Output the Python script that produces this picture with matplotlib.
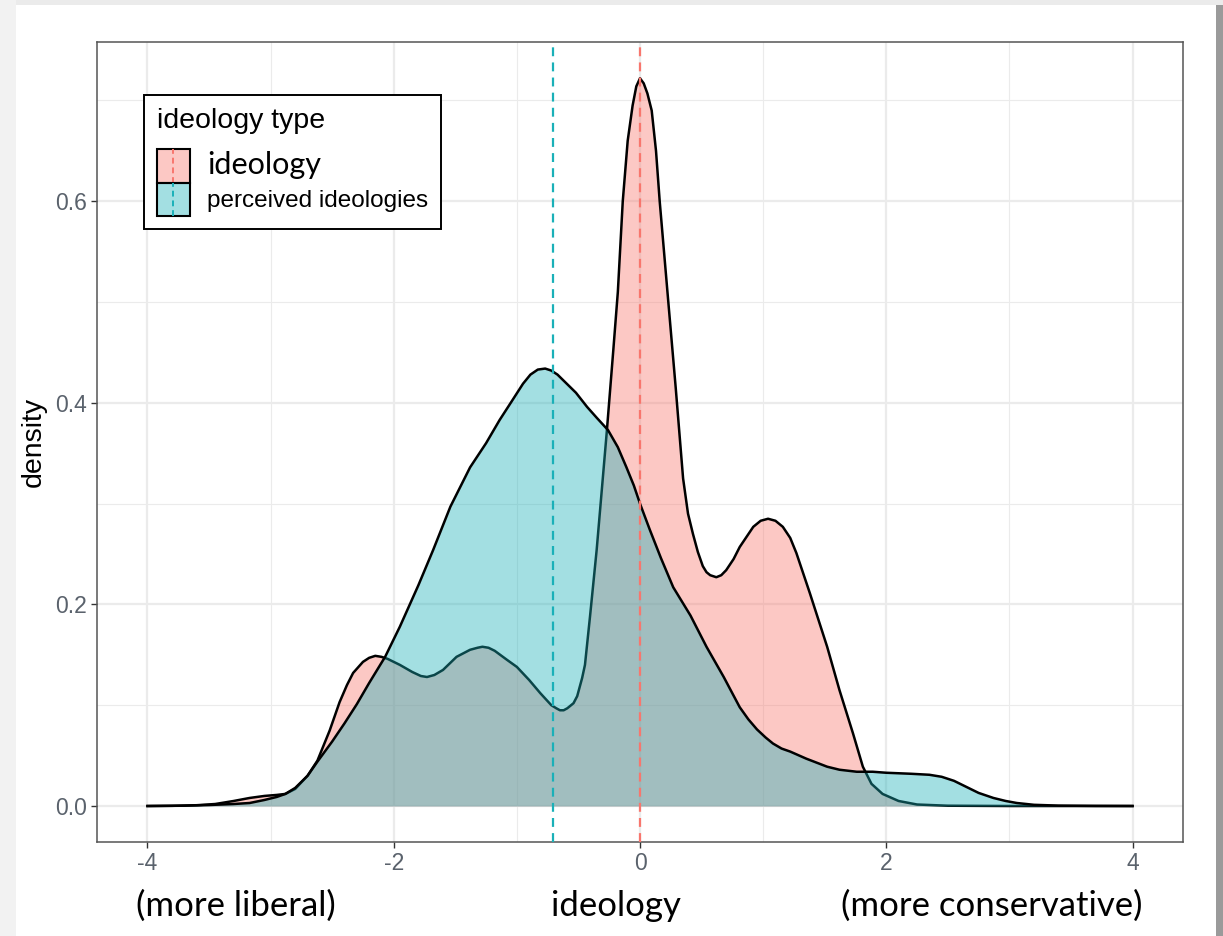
import matplotlib
matplotlib.use('Agg')
import matplotlib.pyplot as plt
from matplotlib.patches import Rectangle
from matplotlib.lines import Line2D
from matplotlib.colors import to_rgba
from matplotlib.legend_handler import HandlerBase
from matplotlib.ticker import FormatStrFormatter

plt.rcParams['axes.unicode_minus'] = False
plt.rcParams['font.family'] = ['Liberation Sans', 'DejaVu Sans']

# density of each ideology type, read at uneven x steps
type_names = ['ideology', 'perceived ideologies']
type_colors = ['#F8766D', '#1AB0B8']
type_means = [0.0, -0.71]

ideo_x = [-4.0, -3.8, -3.6, -3.45, -3.3, -3.17, -3.05, -2.95, -2.88, -2.8, -2.7, -2.62, -2.52, -2.44,
          -2.38, -2.33, -2.25, -2.2, -2.15, -2.1, -2.05, -1.95, -1.85, -1.78, -1.73, -1.67, -1.6,
          -1.49, -1.38, -1.32, -1.28, -1.23, -1.18, -1.08, -1.0, -0.9, -0.81, -0.72, -0.68, -0.65,
          -0.62, -0.59, -0.54, -0.51, -0.49, -0.47, -0.447, -0.406, -0.352, -0.27, -0.217, -0.18,
          -0.14, -0.1, -0.06, -0.03, 0.0, 0.03, 0.06, 0.095, 0.13, 0.16, 0.23, 0.29, 0.35, 0.39,
          0.43, 0.47, 0.51, 0.54, 0.57, 0.62, 0.66, 0.70, 0.76, 0.81, 0.92, 0.98, 1.04, 1.1, 1.16,
          1.22, 1.27, 1.38, 1.52, 1.62, 1.73, 1.81, 1.88, 1.97, 2.1, 2.25, 2.5, 3.0, 4.0]
ideo_y = [0.0, 0.0002, 0.0008, 0.002, 0.005, 0.008, 0.010, 0.011, 0.012, 0.017, 0.030, 0.045, 0.075,
          0.103, 0.120, 0.132, 0.143, 0.147, 0.149, 0.148, 0.146, 0.140, 0.133, 0.129, 0.128, 0.130,
          0.135, 0.148, 0.155, 0.157, 0.158, 0.157, 0.154, 0.145, 0.138, 0.125, 0.112, 0.100, 0.097,
          0.095, 0.095, 0.097, 0.102, 0.109, 0.118, 0.127, 0.14, 0.188, 0.254, 0.371, 0.452, 0.51,
          0.60, 0.66, 0.695, 0.714, 0.722, 0.717, 0.707, 0.69, 0.65, 0.60, 0.50, 0.415, 0.325, 0.29,
          0.270, 0.252, 0.238, 0.232, 0.229, 0.227, 0.229, 0.234, 0.245, 0.257, 0.277, 0.283, 0.285,
          0.283, 0.277, 0.266, 0.251, 0.211, 0.158, 0.115, 0.072, 0.039, 0.022, 0.012, 0.005,
          0.0015, 0.0003, 0.0, 0.0]

perc_x = [-4.0, -3.7, -3.5, -3.3, -3.17, -3.05, -2.95, -2.88, -2.8, -2.7, -2.62, -2.5, -2.4, -2.3,
          -2.2, -2.07, -1.95, -1.8, -1.68, -1.54, -1.38, -1.25, -1.14, -1.05, -0.95, -0.89, -0.83,
          -0.77, -0.72, -0.67, -0.62, -0.52, -0.43, -0.35, -0.26, -0.18, -0.11, -0.05, 0.0, 0.08,
          0.17, 0.27, 0.41, 0.54, 0.68, 0.81, 0.88, 0.95, 1.02, 1.08, 1.15, 1.22, 1.35, 1.52, 1.62,
          1.76, 1.89, 2.0, 2.2, 2.35, 2.45, 2.55, 2.65, 2.75, 2.87, 2.97, 3.06, 3.2, 3.4, 3.7, 4.0]
perc_y = [0.0, 0.0003, 0.001, 0.002, 0.003, 0.006, 0.009, 0.012, 0.018, 0.030, 0.044, 0.064, 0.082,
          0.101, 0.122, 0.148, 0.178, 0.219, 0.254, 0.297, 0.336, 0.360, 0.383, 0.400, 0.419, 0.428,
          0.433, 0.434, 0.432, 0.428, 0.422, 0.410, 0.396, 0.385, 0.373, 0.356, 0.336, 0.318, 0.300,
          0.274, 0.246, 0.217, 0.189, 0.158, 0.128, 0.098, 0.086, 0.076, 0.068, 0.062, 0.057, 0.054,
          0.047, 0.039, 0.036, 0.034, 0.034, 0.033, 0.032, 0.031, 0.029, 0.025, 0.019, 0.013, 0.008,
          0.005, 0.003, 0.0012, 0.0004, 0.0001, 0.0]

x_ticks = [-4, -2, 0, 2, 4]
y_ticks = [0.0, 0.2, 0.4, 0.6]


class KeyHandler(HandlerBase):
    # filled square with the dashed mean line through it
    def create_artists(self, legend, orig_handle, xdescent, ydescent, width, height, fontsize, trans):
        fill, line_color = orig_handle
        box = Rectangle((-xdescent, -ydescent), width, height, facecolor=fill,
                        edgecolor='black', lw=1.5, transform=trans)
        mid = -xdescent + width / 2
        vline = Line2D([mid, mid], [-ydescent, -ydescent + height], color=line_color,
                       ls=(0, (3, 2)), lw=1.4, transform=trans)
        return [box, vline]


W, H = 1223, 936
fig = plt.figure(figsize=(W / 100, H / 100), dpi=100)
fig.patch.set_facecolor('white')

# window edges around the plot
fig.add_artist(Rectangle((0, 1 - 5 / H), 1, 5 / H, transform=fig.transFigure, color='#ebebeb', lw=0))
fig.add_artist(Rectangle((0, 0), 16 / W, 1, transform=fig.transFigure, color='#f2f2f2', lw=0))
fig.add_artist(Rectangle((1216 / W, 0), 7 / W, 1 - 5 / H, transform=fig.transFigure, color='#9a9a9a', lw=0))

ax = fig.add_axes([97 / W, (H - 842) / H, (1183 - 97) / W, (842 - 42) / H])

for xs, ys, c in [(ideo_x, ideo_y, type_colors[0]), (perc_x, perc_y, type_colors[1])]:
    ax.fill_between(xs, 0, ys, color=c, alpha=0.4, lw=0, zorder=2)
    ax.plot(xs, ys, color='black', lw=1.8, solid_joinstyle='round', zorder=2)

for m, c in zip(type_means, type_colors):
    ax.axvline(m, color=c, ls=(0, (4, 2.8)), lw=1.6, zorder=3)

ax.set_xlim(-4.41, 4.41)
ax.set_ylim(-0.0357, 0.758)
ax.set_xticks(x_ticks)
ax.set_yticks(y_ticks)
ax.set_xticks([-3, -1, 1, 3], minor=True)
ax.set_yticks([0.1, 0.3, 0.5, 0.7], minor=True)
ax.yaxis.set_major_formatter(FormatStrFormatter('%.1f'))
ax.grid(which='major', color='#ebebeb', lw=1.6)
ax.grid(which='minor', color='#ebebeb', lw=0.8)
ax.set_axisbelow(True)
ax.tick_params(which='major', length=4, width=1.0, color='#333333', labelsize=16.5,
               labelcolor='#5a626c', pad=3)
ax.tick_params(which='minor', length=0)
for s in ax.spines.values():
    s.set_color('#555555')
    s.set_linewidth(1.1)

ax.set_ylabel('density', fontsize=20.5, labelpad=6)

handles = [(to_rgba(c, 0.4), c) for c in type_colors]
leg = ax.legend(handles, type_names, handler_map={tuple: KeyHandler()},
                loc='upper left', bbox_to_anchor=(47 / 1086, (842 - 95) / 800),
                borderaxespad=0, fontsize=17.5, title='ideology type', title_fontsize=20.5,
                alignment='left', handlelength=1.36, handleheight=1.74, labelspacing=0,
                handletextpad=0.7, borderpad=0.53, fancybox=False, framealpha=1,
                edgecolor='black')
leg.get_frame().set_linewidth(1.4)
leg._legend_box.sep = 11  # gap between title and keys, in points
leg.get_texts()[0].set_fontfamily('Lato')
leg.get_texts()[0].set_fontsize(22)

# axis notes under the plot
fig.text(236 / W, 1 - 906 / H, '(more liberal)', fontsize=25, family='Lato', ha='center', va='center')
fig.text(616 / W, 1 - 906 / H, 'ideology', fontsize=25, family='Lato', ha='center', va='center')
fig.text(992 / W, 1 - 906 / H, '(more conservative)', fontsize=25, family='Lato', ha='center', va='center')

fig.savefig('out.png', dpi=100)
